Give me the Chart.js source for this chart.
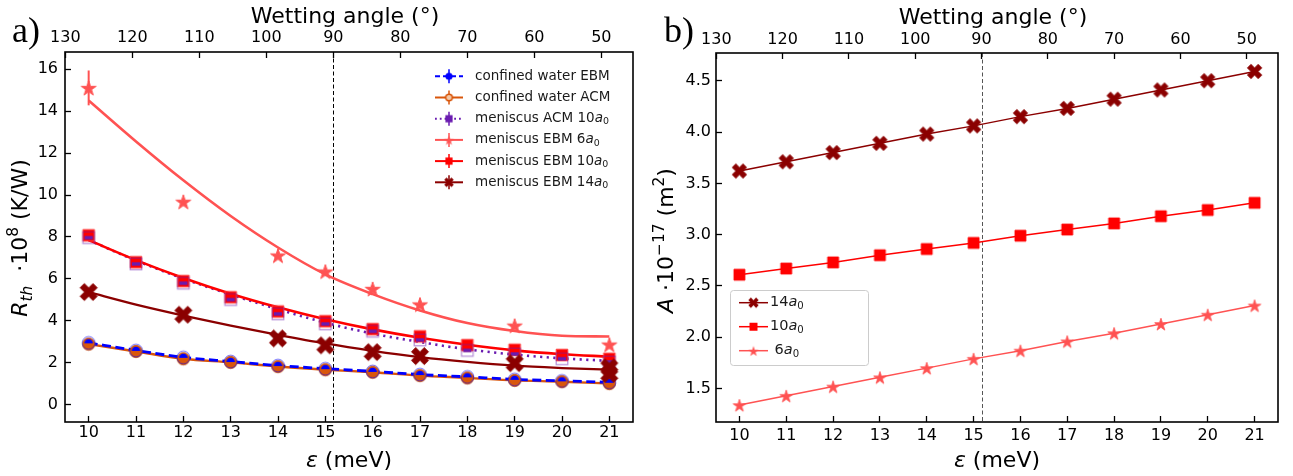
<!DOCTYPE html>
<html lang="en">
<head>
<meta charset="UTF-8">
<title>Thermal resistance and meniscus area vs epsilon</title>
<script src="https://cdn.jsdelivr.net/npm/chart.js@4"></script>
<style>
  html, body { margin: 0; padding: 0; background: #ffffff; }
  #wrap { position: relative; width: 1293px; height: 476px; }
  canvas { position: absolute; top: 0; }
  #chartA { left: 0; }
  #chartB { left: 645px; }
</style>
</head>
<body>
<div id="wrap">
  <canvas id="chartA" width="645" height="476"></canvas>
  <canvas id="chartB" width="648" height="476"></canvas>
</div>
<script>
// epsilon grid (meV)
const eps = [10, 11, 12, 13, 14, 15, 16, 17, 18, 19, 20, 21];

// panel a: R_th * 1e8 (K/W)
const waterEBM = [2.96, 2.6, 2.27, 2.07, 1.88, 1.73, 1.6, 1.45, 1.34, 1.22, 1.15, 1.08];
const waterACM = [2.9, 2.55, 2.2, 2.03, 1.83, 1.68, 1.56, 1.4, 1.29, 1.17, 1.11, 1.02];
const acm10 = [7.97, 6.72, 5.8, 5.02, 4.34, 3.86, 3.51, 3.1, 2.6, 2.43, 2.2, 2.05];
const fitAcm10 = [7.85, 6.88, 6.02, 5.26, 4.56, 3.92, 3.4, 3.0, 2.65, 2.4, 2.22, 2.1];
const ebm10 = [8.08, 6.8, 5.9, 5.13, 4.45, 3.99, 3.61, 3.27, 2.85, 2.63, 2.38, 2.2];
const fit10 = [7.85, 6.9, 6.05, 5.3, 4.65, 4.08, 3.6, 3.2, 2.87, 2.6, 2.42, 2.3];
const eps6 = [10, 12, 14, 15, 16, 17, 19, 21];
const ebm6 = [15.1, 9.68, 7.12, 6.36, 5.53, 4.79, 3.78, 2.88];
const err6 = [0.83, 0, 0, 0, 0, 0, 0, 0];
const fit6 = [14.5, 12.55, 10.7, 9.0, 7.5, 6.22, 5.28, 4.5, 3.9, 3.52, 3.3, 3.26];
const eps14 = [10, 12, 14, 15, 16, 17, 19, 21, 21];
const ebm14 = [5.38, 4.3, 3.17, 2.84, 2.52, 2.33, 1.99, 1.79, 1.48];
const fit14 = [5.37, 4.78, 4.26, 3.78, 3.34, 2.93, 2.58, 2.28, 2.05, 1.87, 1.76, 1.68];

// panel b: meniscus area A * 1e17 (m^2)
const area14 = [3.62, 3.71, 3.80, 3.89, 3.98, 4.06, 4.15, 4.23, 4.32, 4.41, 4.50, 4.59];
const area10 = [2.61, 2.67, 2.73, 2.80, 2.86, 2.92, 2.99, 3.05, 3.11, 3.18, 3.24, 3.31];
const area6 = [1.34, 1.43, 1.52, 1.61, 1.70, 1.79, 1.87, 1.96, 2.04, 2.13, 2.22, 2.31];

// axis ranges
const EPS_RANGE = [9.5, 21.5];
const ANGLE_RANGE = [45.28, 130.05];   // top axis, wetting angle (deg), reversed
const EPS_90 = 15.17;                  // epsilon where wetting angle = 90 deg
const R_RANGE = [-0.81, 16.81];
const A_RANGE = [1.175, 4.77];

const legendA = [
  [['confined water EBM', '']],
  [['confined water ACM', '']],
  [['meniscus ACM 10', ''], ['a', 'i'], ['0', 'sub']],
  [['meniscus EBM 6', ''], ['a', 'i'], ['0', 'sub']],
  [['meniscus EBM 10', ''], ['a', 'i'], ['0', 'sub']],
  [['meniscus EBM 14', ''], ['a', 'i'], ['0', 'sub']]
];
const legendB = [
  [['14', ''], ['a', 'i'], ['0', 'sub']],
  [['10', ''], ['a', 'i'], ['0', 'sub']],
  [[' 6', ''], ['a', 'i'], ['0', 'sub']]
];

const FONT = '"DejaVu Sans", sans-serif';
const C_BLUE = '#0000ff', C_ORANGE = '#d9560b', C_PURPLE = '#6a1bb0';
const C_LRED = '#ff5252', C_RED = '#ff0000', C_DRED = '#8b0000';

// ---- marker images ----
function marker(shape, r, fill, edge, lw) {
  const pad = 3;
  const dim = Math.ceil(2 * r) + 2 * pad;
  const c = document.createElement('canvas');
  c.width = dim; c.height = dim;
  const g = c.getContext('2d');
  const cx = dim / 2;
  g.beginPath();
  if (shape === 'circle') {
    g.arc(cx, cx, r, 0, Math.PI * 2);
  } else if (shape === 'square') {
    g.rect(cx - r, cx - r, 2 * r, 2 * r);
  } else if (shape === 'star') {
    for (let i = 0; i < 10; i++) {
      const rr = i % 2 ? r * 0.382 : r;
      const a = -Math.PI / 2 + i * Math.PI / 5;
      g.lineTo(cx + rr * Math.cos(a), cx + 0.8 + rr * Math.sin(a));
    }
    g.closePath();
  } else if (shape === 'x') {
    const R = r / 0.943, h = R / 3;
    const p = [[-h, -R], [h, -R], [h, -h], [R, -h], [R, h], [h, h], [h, R], [-h, R], [-h, h], [-R, h], [-R, -h], [-h, -h]];
    p.forEach(([x, y]) => g.lineTo(cx + (x - y) / Math.SQRT2, cx + (x + y) / Math.SQRT2));
    g.closePath();
  }
  g.fillStyle = fill;
  g.fill();
  if (edge) { g.strokeStyle = edge; g.lineWidth = lw; g.stroke(); }
  return c;
}

// blue EBM marker: faint ring with upper half disk (drawn over the orange ACM circle)
function halfTopMarker(r, color) {
  const dim = Math.ceil(2 * r) + 6, c = document.createElement('canvas');
  c.width = dim; c.height = dim;
  const g = c.getContext('2d'), cx = dim / 2;
  g.globalAlpha = 0.6; g.strokeStyle = color; g.lineWidth = 0.9;
  g.beginPath(); g.arc(cx, cx, r, 0, Math.PI * 2); g.stroke();
  g.globalAlpha = 1; g.fillStyle = color;
  g.beginPath(); g.arc(cx, cx + 0.5, r * 0.68, Math.PI, 2 * Math.PI); g.closePath(); g.fill();
  return c;
}

// purple ACM marker: thin square outline with a bar, drawn over the red square
function barMarker(r, color) {
  const dim = Math.ceil(2 * r) + 6, c = document.createElement('canvas');
  c.width = dim; c.height = dim;
  const g = c.getContext('2d'), cx = dim / 2;
  g.globalAlpha = 0.5; g.strokeStyle = color; g.lineWidth = 1.2;
  g.strokeRect(cx - r, cx - r, 2 * r, 2 * r);
  g.globalAlpha = 1; g.fillStyle = color;
  g.fillRect(cx - r * 0.72, cx - 1.7, r * 1.44, 3.4);
  return c;
}

const mk = {
  orange: marker('circle', 6.2, C_ORANGE, '#c0501a', 0.8),
  blue: halfTopMarker(6.4, C_BLUE),
  redSq: marker('square', 5.8, C_RED, '#ff4040', 1),
  purple: barMarker(5.8, C_PURPLE),
  star: marker('star', 7.8, C_LRED, C_LRED, 1),
  x: marker('x', 8.6, C_DRED, C_DRED, 0.8),
  bX: marker('x', 7.2, C_DRED, C_DRED, 0.8),
  bSq: marker('square', 5.5, C_RED, C_RED, 0.8),
  bStar: marker('star', 6.6, C_LRED, C_LRED, 0.8)
};

// ---- helpers ----
const pts = (xs, ys) => xs.map((x, i) => ({ x: x, y: ys[i] }));

function drawRich(ctx, parts, x, y, size, align) {
  let total = 0;
  const items = parts.map(([t, f]) => {
    const small = f.includes('sub') || f.includes('sup');
    const s = small ? size * 0.7 : size;
    const font = (f.includes('i') ? 'italic ' : '') + s + 'px ' + FONT;
    ctx.font = font;
    const w = ctx.measureText(t).width;
    total += w;
    const dy = f.includes('sub') ? size * 0.24 : (f.includes('sup') ? -size * 0.4 : 0);
    return { t, font, w, dy };
  });
  let cx = align === 'center' ? x - total / 2 : x;
  items.forEach(it => { ctx.font = it.font; ctx.fillText(it.t, cx, y + it.dy); cx += it.w; });
}

function handle(ctx, x0, x1, y, h) {
  const xc = (x0 + x1) / 2;
  ctx.save();
  ctx.strokeStyle = h.color; ctx.lineWidth = h.width; ctx.setLineDash(h.dash || []);
  ctx.beginPath(); ctx.moveTo(x0, y); ctx.lineTo(x1, y); ctx.stroke();
  ctx.setLineDash([]);
  if (h.err) {
    ctx.lineWidth = 1.5;
    ctx.beginPath(); ctx.moveTo(xc, y - h.err); ctx.lineTo(xc, y + h.err); ctx.stroke();
  }
  ctx.drawImage(h.marker, xc - h.marker.width / 2, y - h.marker.height / 2);
  ctx.restore();
}

function xAxisCfg(height, pad) {
  return {
    type: 'linear', position: 'bottom', min: EPS_RANGE[0], max: EPS_RANGE[1],
    afterBuildTicks(s) { s.ticks = eps.map(v => ({ value: v })); },
    ticks: { autoSkip: false, maxRotation: 0, padding: pad, color: '#000', font: { family: FONT, size: 16 } },
    grid: { drawOnChartArea: false, tickLength: -6, tickWidth: 1.3, tickColor: '#000' },
    border: { display: false },
    afterFit(s) { s.height = height; }
  };
}
function topAxisCfg(height, pad) {
  return {
    type: 'linear', axis: 'x', position: 'top', reverse: true, min: ANGLE_RANGE[0], max: ANGLE_RANGE[1],
    ticks: { stepSize: 10, includeBounds: false, autoSkip: false, maxRotation: 0, padding: pad, color: '#000', font: { family: FONT, size: 16 } },
    grid: { drawOnChartArea: false, tickLength: -6, tickWidth: 1.3, tickColor: '#000' },
    border: { display: false },
    afterFit(s) { s.height = height; }
  };
}
function yAxisCfg(range, step, width, pad, digits) {
  return {
    type: 'linear', position: 'left', min: range[0], max: range[1],
    ticks: { stepSize: step, includeBounds: false, padding: pad, color: '#000', font: { family: FONT, size: 16 },
             callback: v => v.toFixed(digits) },
    grid: { drawOnChartArea: false, tickLength: -6, tickWidth: 1.3, tickColor: '#000' },
    border: { display: false },
    afterFit(s) { s.width = width; }
  };
}

function decor(spec) {
  return {
    id: 'decor' + spec.letter,
    beforeDatasetsDraw(chart) {
      const { ctx, chartArea: a, scales } = chart;
      const xv = Math.round(scales.x.getPixelForValue(EPS_90)) + 0.5;
      ctx.save();
      ctx.strokeStyle = spec.vColor; ctx.lineWidth = 1; ctx.setLineDash([4, 2.5]);
      ctx.beginPath(); ctx.moveTo(xv, a.top); ctx.lineTo(xv, a.bottom); ctx.stroke();
      ctx.restore();
      chart.data.datasets.forEach(ds => {
        if (!ds.errors) return;
        ctx.save(); ctx.strokeStyle = ds.errColor; ctx.lineWidth = 2;
        ds.data.forEach((p, j) => {
          const e = ds.errors[j];
          if (!e) return;
          const px = scales.x.getPixelForValue(p.x);
          ctx.beginPath();
          ctx.moveTo(px, scales.y.getPixelForValue(p.y - e));
          ctx.lineTo(px, scales.y.getPixelForValue(p.y + e));
          ctx.stroke();
        });
        ctx.restore();
      });
    },
    afterDraw(chart) {
      const { ctx, chartArea: a } = chart;
      ctx.save();
      ctx.strokeStyle = '#000'; ctx.lineWidth = 1.6;
      ctx.strokeRect(a.left, a.top, a.right - a.left, a.bottom - a.top);
      ctx.fillStyle = '#000';
      ctx.textBaseline = 'alphabetic';
      const mid = (a.left + a.right) / 2;
      drawRich(ctx, [['Wetting angle (°)', '']], mid - 4, spec.topTitleY, 22, 'center');
      drawRich(ctx, [['ε', 'i'], [' (meV)', '']], mid, 467, 22, 'center');
      ctx.font = '36px "Liberation Serif", serif';
      ctx.fillText(spec.letter + ')', spec.letterX, 42);
      ctx.save();
      ctx.translate(spec.yTitleX, spec.yTitleY);
      ctx.rotate(-Math.PI / 2);
      drawRich(ctx, spec.yTitle, 0, 0, 22, 'center');
      ctx.restore();
      spec.legend(ctx);
      ctx.restore();
    }
  };
}

Chart.defaults.font.family = FONT;

// ---- panel a ----
new Chart(document.getElementById('chartA'), {
  type: 'scatter',
  data: {
    datasets: [
      { data: pts(eps14, ebm14), pointStyle: mk.x, pointRadius: 5, order: 1 },
      { data: pts(eps6, ebm6), pointStyle: mk.star, pointRadius: 5, order: 2, errors: err6, errColor: C_LRED },
      { data: pts(eps, acm10), pointStyle: mk.purple, pointRadius: 5, order: 3 },
      { data: pts(eps, ebm10), pointStyle: mk.redSq, pointRadius: 5, order: 4 },
      { data: pts(eps, waterEBM), pointStyle: mk.blue, pointRadius: 5, order: 5 },
      { data: pts(eps, waterACM), pointStyle: mk.orange, pointRadius: 5, order: 6 },
      { data: pts(eps, fit14), showLine: true, pointRadius: 0, borderColor: C_DRED, borderWidth: 2.3, cubicInterpolationMode: 'monotone', order: 10 },
      { data: pts(eps, fit10), showLine: true, pointRadius: 0, borderColor: C_RED, borderWidth: 2.6, cubicInterpolationMode: 'monotone', order: 11 },
      { data: pts(eps, fit6), showLine: true, pointRadius: 0, borderColor: C_LRED, borderWidth: 2.6, cubicInterpolationMode: 'monotone', order: 12 },
      { data: pts(eps, fitAcm10), showLine: true, pointRadius: 0, borderColor: C_PURPLE, borderWidth: 2.6, borderDash: [2.2, 4.4], cubicInterpolationMode: 'monotone', order: 13 },
      { data: pts(eps, waterEBM), showLine: true, pointRadius: 0, borderColor: C_BLUE, borderWidth: 2.8, borderDash: [9, 4.5], cubicInterpolationMode: 'monotone', order: 14 },
      { data: pts(eps, waterACM), showLine: true, pointRadius: 0, borderColor: C_ORANGE, borderWidth: 2.4, cubicInterpolationMode: 'monotone', order: 15 }
    ]
  },
  options: {
    responsive: false, devicePixelRatio: 1, animation: false, events: [],
    layout: { padding: { left: 0, right: 12, top: 0, bottom: 0 } },
    plugins: { legend: { display: false }, tooltip: { enabled: false } },
    scales: {
      x: xAxisCfg(54, 7),
      x2: topAxisCfg(52, 11),
      y: yAxisCfg(R_RANGE, 2, 65, 13, 0)
    }
  },
  plugins: [decor({
    letter: 'a', letterX: 12, topTitleY: 23, vColor: '#000',
    yTitleX: 27, yTitleY: 238,
    yTitle: [['R', 'i'], ['th', 'isub'], ['  ·', ''], ['10', ''], ['8', 'sup'], [' (K/W)', '']],
    legend(ctx) {
      const hs = [
        { color: C_BLUE, width: 2, dash: [5, 3], err: 7, marker: marker('circle', 3.6, C_BLUE) },
        { color: C_ORANGE, width: 2, err: 7, marker: marker('circle', 3.3, '#f3c9a8', C_ORANGE, 1.6) },
        { color: C_PURPLE, width: 2, dash: [1.8, 3], err: 7, marker: marker('square', 3.6, C_PURPLE) },
        { color: C_LRED, width: 2, err: 7, marker: marker('star', 5.2, C_LRED) },
        { color: C_RED, width: 2, err: 7, marker: marker('square', 3.6, C_RED) },
        { color: C_DRED, width: 2, err: 7, marker: marker('x', 4.8, C_DRED) }
      ];
      ctx.textBaseline = 'middle';
      hs.forEach((h, i) => {
        const y = 76.3 + i * 21.2;
        handle(ctx, 435, 463, y, h);
        ctx.fillStyle = '#1a1a1a';
        drawRich(ctx, legendA[i], 475, y, 13.5, 'left');
      });
    }
  })]
});

// ---- panel b ----
new Chart(document.getElementById('chartB'), {
  type: 'scatter',
  data: {
    datasets: [
      { data: pts(eps, area14), showLine: true, pointStyle: mk.bX, pointRadius: 5, borderColor: C_DRED, borderWidth: 1.5, order: 1 },
      { data: pts(eps, area10), showLine: true, pointStyle: mk.bSq, pointRadius: 5, borderColor: C_RED, borderWidth: 1.5, order: 2 },
      { data: pts(eps, area6), showLine: true, pointStyle: mk.bStar, pointRadius: 5, borderColor: C_LRED, borderWidth: 1.5, order: 3 }
    ]
  },
  options: {
    responsive: false, devicePixelRatio: 1, animation: false, events: [],
    layout: { padding: { left: 0, right: 15, top: 0, bottom: 0 } },
    plugins: { legend: { display: false }, tooltip: { enabled: false } },
    scales: {
      x: xAxisCfg(54, 10),
      x2: topAxisCfg(53, 10),
      y: yAxisCfg(A_RANGE, 0.5, 71, 11, 1)
    }
  },
  plugins: [decor({
    letter: 'b', letterX: 19, topTitleY: 24, vColor: '#555',
    yTitleX: 28, yTitleY: 240.5,
    yTitle: [['A', 'i'], [' ·10', ''], ['−17', 'sup'], [' (m', ''], ['2', 'sup'], [')', '']],
    legend(ctx) {
      ctx.save();
      ctx.fillStyle = 'rgba(255,255,255,0.85)';
      ctx.strokeStyle = '#cccccc'; ctx.lineWidth = 1;
      ctx.beginPath(); ctx.roundRect(85.5, 290.5, 138, 75, 3); ctx.fill(); ctx.stroke();
      ctx.restore();
      const hs = [
        { color: C_DRED, width: 1.5, marker: marker('x', 5.2, C_DRED) },
        { color: C_RED, width: 1.5, marker: marker('square', 4, C_RED) },
        { color: C_LRED, width: 1.5, marker: marker('star', 5.6, C_LRED) }
      ];
      ctx.textBaseline = 'middle';
      hs.forEach((h, i) => {
        const y = 302.7 + i * 24;
        handle(ctx, 94, 123, y, h);
        ctx.fillStyle = '#1a1a1a';
        drawRich(ctx, legendB[i], 125, y, 14.5, 'left');
      });
    }
  })]
});
</script>
</body>
</html>
